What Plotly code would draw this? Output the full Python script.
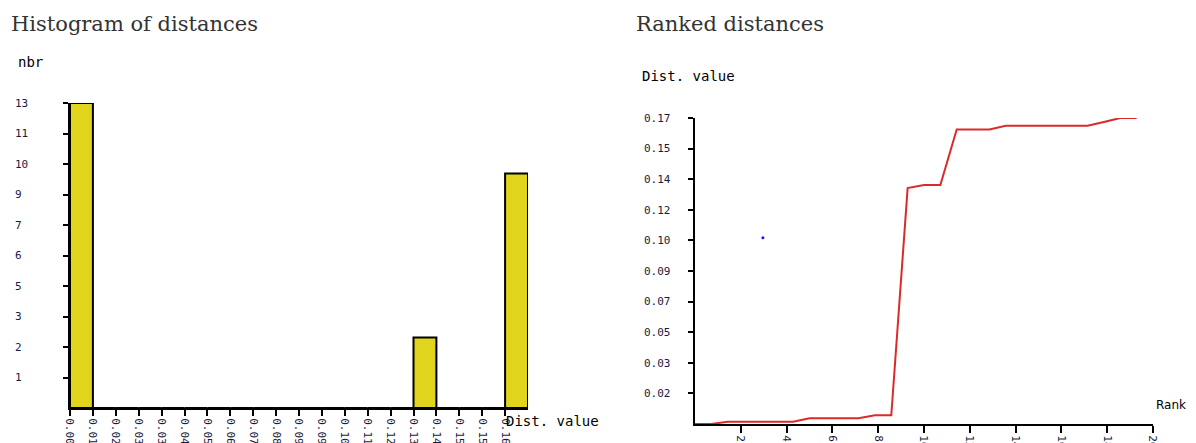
import plotly.graph_objects as go

# ---- data ----
# Histogram of distances (20 bins)
bin_index = list(range(20))
bin_labels = ["0.00", "0.01", "0.02", "0.03", "0.03", "0.04", "0.05", "0.06", "0.07", "0.08",
              "0.09", "0.09", "0.10", "0.11", "0.12", "0.13", "0.14", "0.15", "0.15", "0.16"]
bin_counts = [13, 0, 0, 0, 0, 0, 0, 0, 0, 0, 0, 0, 0, 0, 0, 3, 0, 0, 0, 10]
count_tick_labels = ["1", "2", "3", "5", "6", "7", "9", "10", "11", "13"]
count_max = 13

# Ranked distances
ranks = list(range(28))
distances = [0.0000, 0.0000, 0.0013, 0.0013, 0.0013, 0.0013, 0.0013, 0.0032, 0.0032, 0.0032,
             0.0032, 0.0049, 0.0049, 0.1323, 0.1340, 0.1340, 0.1652, 0.1652, 0.1652, 0.1673,
             0.1673, 0.1673, 0.1673, 0.1673, 0.1673, 0.1694, 0.1716, 0.1716]
rank_tick_labels = ["2", "4", "6", "8", "10", "12", "14", "16", "18", "20"]
dist_tick_labels = ["0.02", "0.03", "0.05", "0.07", "0.09", "0.10", "0.12", "0.14", "0.15", "0.17"]
cursor_point_x = [4.15]
cursor_point_y = [0.1045]

# page body has an 8px margin; the figure runs past the window edge like the original
OFF = 8
W, H = 1196, 443
def px(x):
    return (x - OFF) / W
def py(y):
    return (H - (y - OFF)) / H

mono = "DejaVu Sans Mono"
tickfont = dict(family=mono, size=11, color="#1a1a40")

fig = go.Figure()

fig.add_trace(go.Bar(
    x=bin_index, y=bin_counts, width=1, offset=0,
    marker=dict(color="#e0d41c", line=dict(color="black", width=2)),
    xaxis="x", yaxis="y", showlegend=False, hoverinfo="skip"))
fig.add_trace(go.Scatter(x=[None], y=[None], xaxis="x", yaxis="y3", showlegend=False))

fig.add_trace(go.Scatter(
    x=ranks, y=distances, mode="lines",
    line=dict(color="#dc2a2a", width=2),
    xaxis="x2", yaxis="y2", showlegend=False, hoverinfo="skip"))
fig.add_trace(go.Scatter(
    x=cursor_point_x, y=cursor_point_y, mode="markers",
    marker=dict(color="#1010ff", size=3),
    xaxis="x2", yaxis="y2", showlegend=False, hoverinfo="skip"))
fig.add_trace(go.Scatter(x=[None], y=[None], xaxis="x2", yaxis="y4", showlegend=False))

n_bins = len(bin_index)
count_ticks = [count_max * k / 10 for k in range(1, 11)]
dmax = max(distances)
dist_ticks = [dmax * k / 10 for k in range(1, 11)]
n_rank = len(ranks)
rank_ticks = [n_rank * k / 10 for k in range(1, 11)]

axis_common = dict(showline=True, linecolor="black", linewidth=2, ticks="outside",
                   tickcolor="black", tickwidth=2, showgrid=False, zeroline=False,
                   fixedrange=True, automargin=False)
label_axis = dict(showline=False, showgrid=False, zeroline=False, ticks="",
                  automargin=False, fixedrange=True, tickfont=tickfont)

fig.update_layout(
    width=W, height=H, margin=dict(l=0, r=0, t=0, b=0, autoexpand=False),
    paper_bgcolor="white", plot_bgcolor="white",
    xaxis=dict(domain=[px(70), px(528)], range=[0, n_bins], anchor="y",
               tickvals=bin_index, ticktext=bin_labels, tickangle=90, ticklen=6,
               tickfont=tickfont, **axis_common),
    yaxis=dict(domain=[py(408), py(103)], range=[0, count_max], anchor="x",
               tickvals=count_ticks, showticklabels=False, ticklen=5, **axis_common),
    yaxis3=dict(domain=[py(408), py(103)], range=[0, count_max], overlaying="y",
                anchor="free", position=px(14), side="right", tickvals=count_ticks,
                ticktext=count_tick_labels, **label_axis),
    xaxis2=dict(domain=[px(695), px(1153)], range=[0, n_rank], anchor="y2",
                tickvals=rank_ticks, ticktext=rank_tick_labels, tickangle=90, ticklen=7,
                tickfont=tickfont, **axis_common),
    yaxis2=dict(domain=[py(424), py(118)], range=[0, dmax], anchor="x2",
                tickvals=dist_ticks, showticklabels=False, ticklen=5, **axis_common),
    yaxis4=dict(domain=[py(424), py(118)], range=[0, dmax], overlaying="y2",
                anchor="free", position=px(643), side="right", tickvals=dist_ticks,
                ticktext=dist_tick_labels, **label_axis),
)

title_font = dict(family="DejaVu Serif", size=21, color="#333333")
ann = [
    dict(text="Histogram of distances", x=px(9), y=py(24), xanchor="left", yanchor="middle",
         font=title_font),
    dict(text="Ranked distances", x=px(634), y=py(24), xanchor="left", yanchor="middle",
         font=title_font),
    dict(text="nbr", x=px(16), y=py(62), xanchor="left", yanchor="middle",
         font=dict(family=mono, size=14, color="black")),
    dict(text="Dist. value", x=px(504), y=py(421), xanchor="left", yanchor="middle",
         font=dict(family=mono, size=14, color="black")),
    dict(text="Dist. value", x=px(640), y=py(76), xanchor="left", yanchor="middle",
         font=dict(family=mono, size=14, color="black")),
    dict(text="Rank", x=px(1154), y=py(405), xanchor="left", yanchor="middle",
         font=dict(family="DejaVu Sans", size=12, color="black")),
]
for a in ann:
    a.update(xref="paper", yref="paper", showarrow=False)
fig.update_layout(annotations=ann)

fig.write_html("out.html")
